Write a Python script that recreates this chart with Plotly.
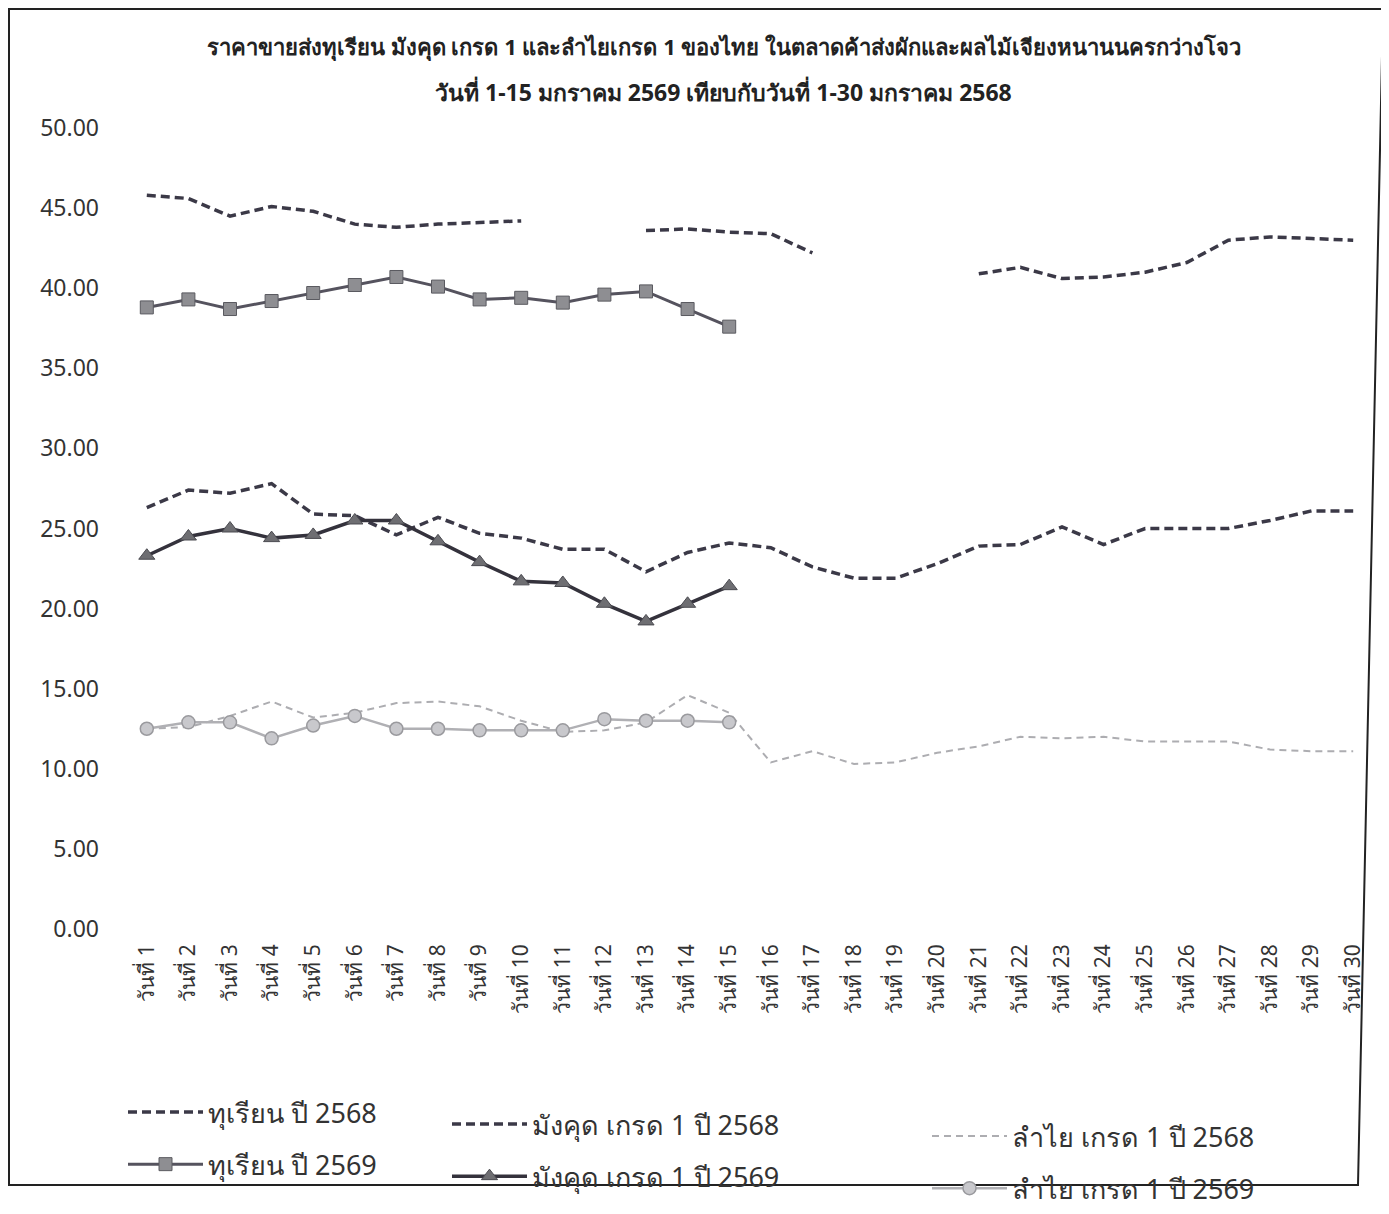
import plotly.graph_objects as go

days = [f"วันที่ {i}" for i in range(1, 31)]

durian_2568 = [45.8, 45.6, 44.5, 45.1, 44.8, 44.0, 43.8, 44.0, 44.1, 44.2,
               None, None, 43.6, 43.7, 43.5, 43.4, 42.2, None, None, None,
               40.9, 41.3, 40.6, 40.7, 41.0, 41.6, 43.0, 43.2, 43.1, 43.0]
durian_2569 = [38.8, 39.3, 38.7, 39.2, 39.7, 40.2, 40.7, 40.1, 39.3, 39.4,
               39.1, 39.6, 39.8, 38.7, 37.6]
mangosteen_2568 = [26.3, 27.4, 27.2, 27.8, 25.9, 25.8, 24.6, 25.7, 24.7, 24.4,
                   23.7, 23.7, 22.3, 23.5, 24.1, 23.8, 22.6, 21.9, 21.9, 22.8,
                   23.9, 24.0, 25.1, 24.0, 25.0, 25.0, 25.0, 25.5, 26.1, 26.1]
mangosteen_2569 = [23.3, 24.5, 25.0, 24.4, 24.6, 25.5, 25.5, 24.2, 22.9, 21.7,
                   21.6, 20.3, 19.2, 20.3, 21.4]
longan_2568 = [12.5, 12.6, 13.3, 14.2, 13.2, 13.5, 14.1, 14.2, 13.9, 13.0,
               12.3, 12.4, 12.9, 14.6, 13.5, 10.4, 11.1, 10.3, 10.4, 11.0,
               11.4, 12.0, 11.9, 12.0, 11.7, 11.7, 11.7, 11.2, 11.1, 11.1]
longan_2569 = [12.5, 12.9, 12.9, 11.9, 12.7, 13.3, 12.5, 12.5, 12.4, 12.4,
               12.4, 13.1, 13.0, 13.0, 12.9]

y_ticks = [0, 5, 10, 15, 20, 25, 30, 35, 40, 45, 50]
title_line1 = "ราคาขายส่งทุเรียน มังคุด เกรด 1 และลำไยเกรด 1 ของไทย ในตลาดค้าส่งผักและผลไม้เจียงหนานนครกว่างโจว"
title_line2 = "วันที่ 1-15 มกราคม 2569 เทียบกับวันที่ 1-30 มกราคม 2568"

FONT = "Noto Sans, Tahoma, sans-serif"
dark = "#3b3947"
fig = go.Figure()

fig.add_trace(go.Scatter(x=days, y=durian_2568, name="ทุเรียน ปี 2568", mode="lines",
                         line=dict(color=dark, width=3.5, dash="9px,5px"),
                         legend="legend", legendgroup="a"))
fig.add_trace(go.Scatter(x=days[:15], y=durian_2569, name="ทุเรียน ปี 2569", mode="lines+markers",
                         line=dict(color="#55535e", width=3),
                         marker=dict(symbol="square", size=13, color="#8e8e92",
                                     line=dict(color="#5a5a60", width=1)),
                         legend="legend", legendgroup="b"))
fig.add_trace(go.Scatter(x=days, y=mangosteen_2568, name="มังคุด เกรด 1 ปี 2568", mode="lines",
                         line=dict(color=dark, width=3.5, dash="9px,5px"),
                         legend="legend2", legendgroup="c"))
fig.add_trace(go.Scatter(x=days[:15], y=mangosteen_2569, name="มังคุด เกรด 1 ปี 2569", mode="lines+markers",
                         line=dict(color="#34323c", width=3.5),
                         marker=dict(symbol="triangle-up", size=14, color="#6e6e72",
                                     line=dict(color="#4a4a50", width=1)),
                         legend="legend2", legendgroup="d"))
fig.add_trace(go.Scatter(x=days, y=longan_2568, name="ลำไย เกรด 1 ปี 2568", mode="lines",
                         line=dict(color="#adadb1", width=2, dash="7px,5px"),
                         legend="legend3", legendgroup="e"))
fig.add_trace(go.Scatter(x=days[:15], y=longan_2569, name="ลำไย เกรด 1 ปี 2569", mode="lines+markers",
                         line=dict(color="#b0b0b4", width=2.5),
                         marker=dict(symbol="circle", size=13, color="#c8c8cc",
                                     line=dict(color="#9a9a9e", width=1.5)),
                         legend="legend3", legendgroup="f"))

OFF = 8  # page body offset
W, H = 1389, 1214
L = 126 - OFF
T = 128 - OFF
R = W - (1374 - OFF)
B = H - (929 - OFF)
pw = W - L - R
ph = H - T - B

def px(xp):
    return (xp - OFF - L) / pw

def py(yp):
    return (H - B - (yp - OFF)) / ph

legend_common = dict(orientation="v", font=dict(family=FONT, size=27, color="#333"),
                     itemwidth=75, tracegroupgap=14, bgcolor="rgba(0,0,0,0)",
                     xanchor="left", yanchor="top", itemclick=False)

frame = (f"M {px(9)} {py(9)} L {px(1383)} {py(9)} L {px(1358)} {py(1185)} "
         f"L {px(9)} {py(1185)} Z")

fig.update_layout(
    width=W, height=H,
    margin=dict(l=L, r=R, t=T, b=B, autoexpand=False),
    paper_bgcolor="white", plot_bgcolor="white",
    font=dict(family=FONT, color="#333"),
    showlegend=True,
    legend=dict(x=px(123), y=py(1088), **legend_common),
    legend2=dict(x=px(447), y=py(1100), **legend_common),
    legend3=dict(x=px(927), y=py(1112), **legend_common),
    annotations=[
        dict(text=f"<b>{title_line1}</b>", x=px(724), y=py(47), xref="paper", yref="paper",
             showarrow=False, font=dict(family=FONT, size=22, color="#222"), xanchor="center", yanchor="middle"),
        dict(text=f"<b>{title_line2}</b>", x=px(723), y=py(92), xref="paper", yref="paper",
             showarrow=False, font=dict(family=FONT, size=23, color="#222"), xanchor="center", yanchor="middle"),
    ],
    shapes=[dict(type="path", path=frame, xref="paper", yref="paper",
                 line=dict(color="#222", width=2), fillcolor="rgba(0,0,0,0)")],
)

fig.update_xaxes(type="category", categoryorder="array", categoryarray=days,
                 range=[-0.5, 29.5], autorange=False,
                 tickangle=-90, tickfont=dict(family=FONT, size=21, color="#333"),
                 showgrid=False, showline=False, zeroline=False, ticks="",
                 ticklabelstandoff=10, automargin=False)
fig.update_yaxes(range=[0, 50], autorange=False, tickvals=y_ticks,
                 ticktext=[f"{v:.2f}" for v in y_ticks],
                 tickfont=dict(family=FONT, size=23, color="#333"),
                 showgrid=False, showline=False, zeroline=False, ticks="",
                 ticklabelstandoff=26, automargin=False)

fig.write_html("out.html")
